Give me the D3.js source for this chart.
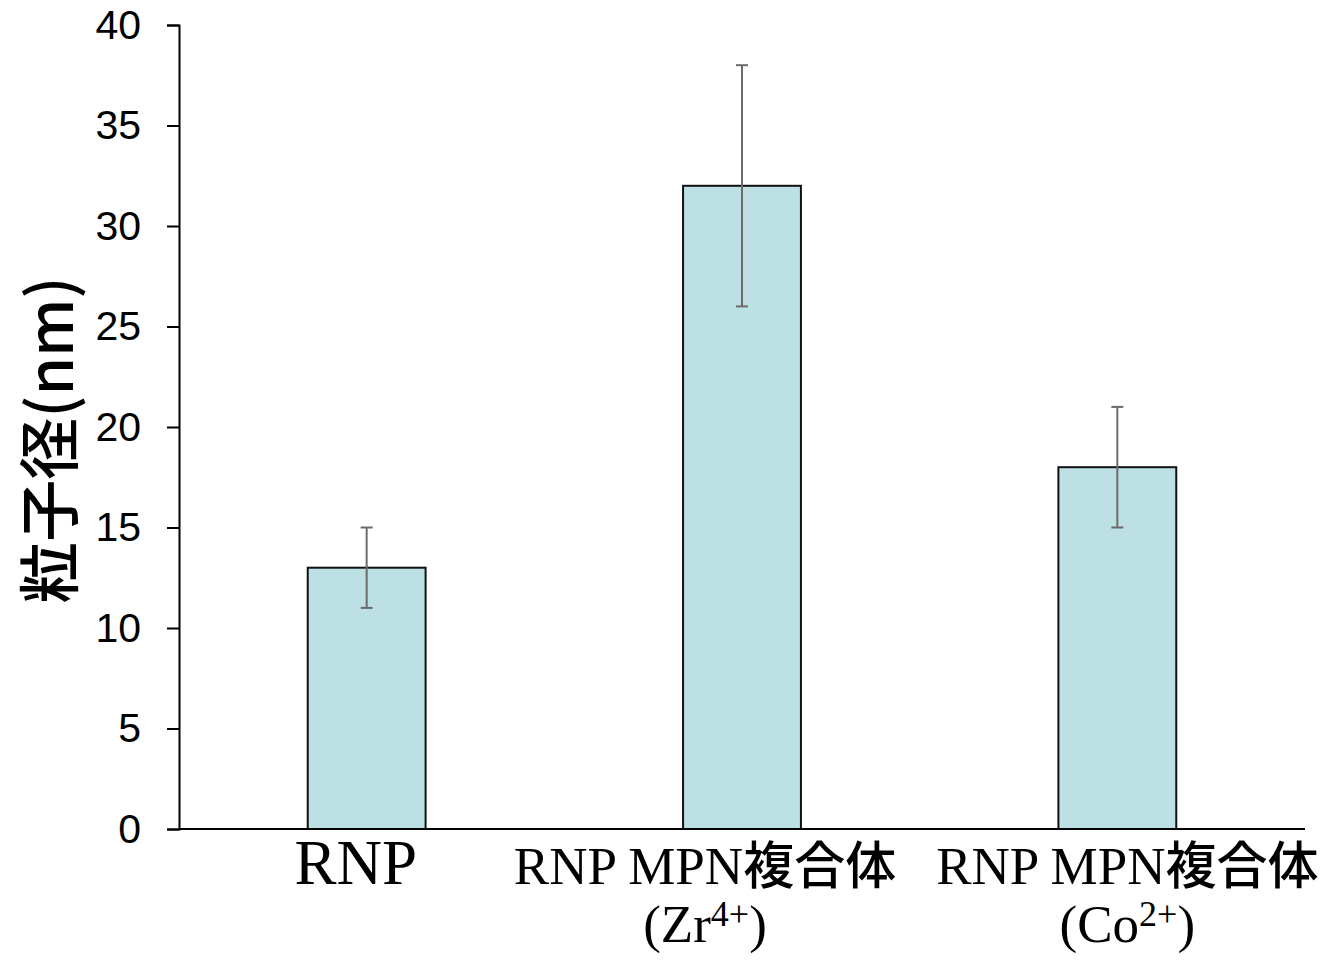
<!DOCTYPE html>
<html>
<head>
<meta charset="utf-8">
<script src="https://cdn.jsdelivr.net/npm/d3@7"></script>
<style>
  body { margin: 0; background: #fff; }
</style>
</head>
<body>
<div id="my_dataviz"></div>
<script>
// données
var categories = ["RNP", "Zr", "Co"]
var labelLine1 = ["RNP", "RNP MPN複合体", "RNP MPN複合体"]
var labelIon = ["", "Zr", "Co"]
var labelCharge = ["", "4+", "2+"]
var values = [13, 32, 18]
var errLow = [11, 26, 15]
var errHigh = [15, 38, 21]
var yTicks = [0, 5, 10, 15, 20, 25, 30, 35, 40]

// dimensions
var width = 1328
var height = 960
var margin = {left: 179, right: 23, top: 25, bottom: 131}

var svg = d3.select("#my_dataviz")
  .append("svg")
    .attr("width", width)
    .attr("height", height)

var x = d3.scaleBand()
  .domain(categories)
  .range([margin.left, width - margin.right])
  .paddingInner(0.686)
  .paddingOuter(0.343)

var y = d3.scaleLinear()
  .domain([0, 40])
  .range([height - margin.bottom, margin.top])

// barres
svg.selectAll("rect.bar")
  .data(values)
  .enter()
  .append("rect")
    .attr("class", "bar")
    .attr("x", function(d, i){ return x(categories[i]) })
    .attr("y", function(d){ return y(d) })
    .attr("width", x.bandwidth())
    .attr("height", function(d){ return y(0) - y(d) })
    .style("fill", "#bce0e3")
    .attr("stroke", "#111")
    .attr("stroke-width", 2)

// barres d'erreur
var cx = function(i){ return x(categories[i]) + x.bandwidth() / 2 }
var err = svg.append("g")
  .attr("stroke", "#6b6b6b")
  .attr("stroke-width", 2)
values.forEach(function(v, i) {
  err.append("line")
    .attr("x1", cx(i)).attr("x2", cx(i))
    .attr("y1", y(errLow[i])).attr("y2", y(errHigh[i]))
  ;[errLow[i], errHigh[i]].forEach(function(e) {
    err.append("line")
      .attr("x1", cx(i) - 6).attr("x2", cx(i) + 6)
      .attr("y1", y(e)).attr("y2", y(e))
  })
})

// axe y
var yAxis = svg.append("g")
  .attr("transform", "translate(" + margin.left + ",0)")
  .call(d3.axisLeft(y).tickValues(yTicks).tickSizeOuter(0).tickSize(12).tickPadding(26))
yAxis.select(".domain").attr("stroke", "#000").attr("stroke-width", 2)
yAxis.selectAll(".tick line").attr("stroke", "#000").attr("stroke-width", 2)
yAxis.selectAll(".tick text")
  .style("font-family", "'Liberation Sans', Arial, sans-serif")
  .style("font-size", "41px")
  .attr("fill", "#000")

// axe x (ligne de base)
svg.append("line")
  .attr("x1", margin.left).attr("x2", width - margin.right)
  .attr("y1", y(0)).attr("y2", y(0))
  .attr("stroke", "#000").attr("stroke-width", 2)

// étiquettes
var labelShift = [-11, -37, 10]
var serif = "'Liberation Serif', 'Times New Roman', serif"
var cjk = "'Noto Sans CJK JP', sans-serif"
categories.forEach(function(c, i) {
  var t = svg.append("text")
    .attr("x", cx(i) + labelShift[i])
    .attr("y", y(0) + 55)
    .attr("text-anchor", "middle")
    .style("font-family", serif)
    .style("font-size", i === 0 ? "63px" : "53px")
    .attr("fill", "#000")
  var m = labelLine1[i].match(/^([A-Za-z ]+)(.*)$/)
  t.append("tspan").text(m[1])
  if (m[2]) t.append("tspan").style("font-family", cjk).style("font-weight", 500).style("font-size", "51px").text(m[2])

  if (labelIon[i]) {
    var t2 = svg.append("text")
      .attr("x", cx(i) + labelShift[i])
      .attr("y", y(0) + 113)
      .attr("text-anchor", "middle")
      .style("font-family", serif)
      .style("font-size", "53px")
      .attr("fill", "#000")
    t2.append("tspan").text("(" + labelIon[i])
    t2.append("tspan").attr("dy", -16).style("font-size", "36px").text(labelCharge[i])
    t2.append("tspan").attr("dy", 16).text(")")
  }
})

// titre de l'axe y
svg.append("text")
  .attr("transform", "translate(73,440) rotate(-90)")
  .attr("text-anchor", "middle")
  .style("font-family", cjk)
  .style("font-weight", 500)
  .style("font-size", "62px")
  .attr("fill", "#000")
  .text("粒子径(nm)")
</script>
</body>
</html>
